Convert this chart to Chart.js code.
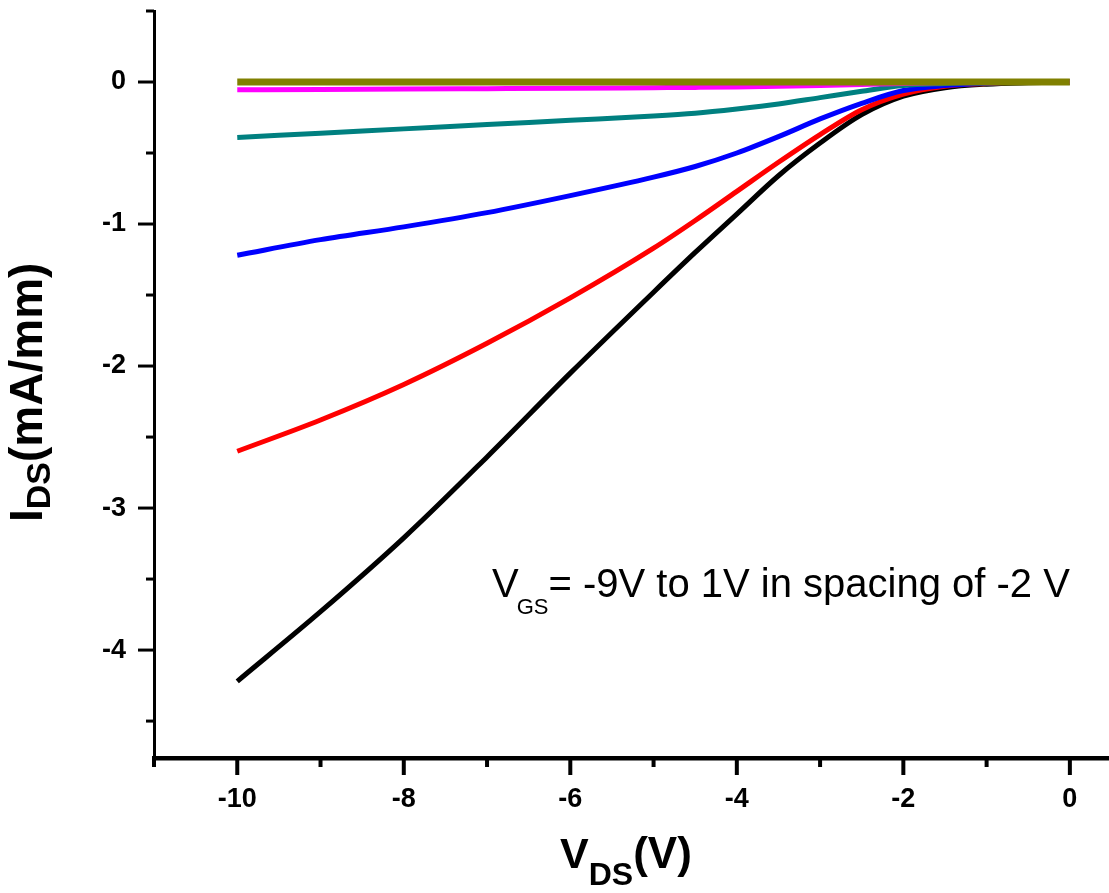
<!DOCTYPE html>
<html>
<head>
<meta charset="utf-8">
<title>IDS vs VDS</title>
<script src="https://cdn.jsdelivr.net/npm/chart.js@4.4.1/dist/chart.umd.min.js"></script>
<style>
  html, body { margin: 0; padding: 0; background: #fff; }
  #wrap { position: relative; width: 1109px; height: 893px; }
</style>
</head>
<body>
<div id="wrap"><canvas id="ivChart"></canvas></div>
<script>
const FONT = "'Liberation Sans', Arial, Helvetica, sans-serif";

// drain voltage sweep (V)
const vds = [-10, -9, -8, -7, -6, -5, -4.5, -4, -3.5, -3, -2.5, -2, -1.5, -1, -0.5, 0];

// drain current (mA/mm), one array per gate voltage
const idsVgsM9 = [-4.22, -3.73, -3.21, -2.64, -2.05, -1.48, -1.20, -0.93, -0.66, -0.43, -0.23, -0.10, -0.04, -0.015, -0.005, 0];
const idsVgsM7 = [-2.60, -2.38, -2.13, -1.84, -1.52, -1.17, -0.975, -0.77, -0.565, -0.37, -0.195, -0.085, -0.03, -0.01, 0, 0];
const idsVgsM5 = [-1.22, -1.11, -1.02, -0.92, -0.80, -0.67, -0.595, -0.50, -0.385, -0.26, -0.15, -0.06, -0.025, -0.008, 0, 0];
const idsVgsM3 = [-0.39, -0.36, -0.33, -0.30, -0.27, -0.24, -0.22, -0.19, -0.155, -0.11, -0.065, -0.025, -0.01, 0, 0, 0];
const idsVgsM1 = [-0.055, -0.052, -0.05, -0.047, -0.044, -0.04, -0.038, -0.035, -0.03, -0.025, -0.018, -0.01, -0.004, 0, 0, 0];
const idsVgsP1 = [0, 0, 0, 0, 0, 0, 0, 0, 0, 0, 0, 0, 0, 0, 0, 0];

const xMajorTicks = [-10, -8, -6, -4, -2, 0];
const xMinorTicks = [-11, -9, -7, -5, -3, -1];
const yMajorTicks = [-4, -3, -2, -1, 0];
const yMinorTicks = [-4.5, -3.5, -2.5, -1.5, -0.5, 0.5];

function toPoints(ys) {
  return vds.map((x, i) => ({ x: x, y: ys[i] }));
}

function curve(ys, color, width) {
  return {
    data: toPoints(ys),
    borderColor: color,
    backgroundColor: color,
    borderWidth: width,
    showLine: true,
    pointRadius: 0,
    cubicInterpolationMode: 'monotone',
    fill: false
  };
}

// minor/major ticks, axis titles and the note, drawn after the chart
const decorPlugin = {
  id: 'decor',
  afterDraw(chart) {
    const ctx = chart.ctx;
    const xs = chart.scales.x;
    const ys = chart.scales.y;
    const area = chart.chartArea;

    ctx.save();
    ctx.strokeStyle = '#000';
    ctx.lineCap = 'butt';

    ctx.lineWidth = 3;
    yMajorTicks.forEach(v => {
      const y = ys.getPixelForValue(v);
      ctx.beginPath(); ctx.moveTo(area.left, y); ctx.lineTo(area.left - 16, y); ctx.stroke();
    });
    yMinorTicks.forEach(v => {
      const y = ys.getPixelForValue(v);
      ctx.beginPath(); ctx.moveTo(area.left, y); ctx.lineTo(area.left - 8, y); ctx.stroke();
    });

    ctx.lineWidth = 4;
    xMajorTicks.forEach(v => {
      const x = xs.getPixelForValue(v);
      ctx.beginPath(); ctx.moveTo(x, area.bottom); ctx.lineTo(x, area.bottom + 17); ctx.stroke();
    });
    xMinorTicks.forEach(v => {
      const x = xs.getPixelForValue(v);
      ctx.beginPath(); ctx.moveTo(x, area.bottom); ctx.lineTo(x, area.bottom + 9); ctx.stroke();
    });

    ctx.fillStyle = '#000';
    ctx.textBaseline = 'alphabetic';
    ctx.textAlign = 'left';

    // x title: V_DS(V)
    let x = 560;
    ctx.font = 'bold 43px ' + FONT;
    ctx.fillText('V', x, 868);
    x += ctx.measureText('V').width;
    ctx.font = 'bold 32px ' + FONT;
    ctx.fillText('DS', x, 885);
    x += ctx.measureText('DS').width;
    ctx.font = 'bold 44px ' + FONT;
    ctx.fillText('(V)', x, 868);

    // y title: I_DS(mA/mm)
    ctx.save();
    ctx.translate(42, 522);
    ctx.rotate(-Math.PI / 2);
    let t = 0;
    ctx.font = 'bold 46px ' + FONT;
    ctx.fillText('I', t, 0);
    t += ctx.measureText('I').width;
    ctx.font = 'bold 34px ' + FONT;
    ctx.fillText('DS', t, 8);
    t += ctx.measureText('DS').width;
    ctx.font = 'bold 46px ' + FONT;
    ctx.fillText('(mA/mm)', t, 0);
    ctx.restore();

    // note
    let n = 492;
    ctx.font = '40px ' + FONT;
    ctx.fillText('V', n, 597);
    n += ctx.measureText('V').width;
    ctx.font = '22px ' + FONT;
    ctx.fillText('GS', n - 2, 614);
    n += ctx.measureText('GS').width - 2;
    ctx.font = '40px ' + FONT;
    ctx.fillText('= -9V to 1V in spacing of -2 V', n, 597);

    ctx.restore();
  }
};

const chart = new Chart(document.getElementById('ivChart'), {
  type: 'scatter',
  data: {
    datasets: [
      curve(idsVgsP1, '#808000', 7),
      curve(idsVgsM1, '#ff00ff', 5),
      curve(idsVgsM3, '#008080', 5),
      curve(idsVgsM5, '#0000ff', 5),
      curve(idsVgsM7, '#ff0000', 5),
      curve(idsVgsM9, '#000000', 5)
    ]
  },
  options: {
    responsive: true,
    maintainAspectRatio: false,
    animation: false,
    layout: { padding: { top: 11, right: 0, bottom: 0, left: 0 } },
    plugins: {
      legend: { display: false },
      tooltip: { enabled: false }
    },
    scales: {
      x: {
        type: 'linear',
        min: -11,
        max: 0.47,
        afterFit(scale) {
          scale.height = 135;
          scale.paddingLeft = 0;
          scale.paddingRight = 0;
        },
        afterBuildTicks(scale) { scale.ticks = xMajorTicks.map(v => ({ value: v })); },
        grid: { display: true, drawOnChartArea: false, drawTicks: false },
        border: { display: true, color: '#000', width: 4.5 },
        ticks: {
          color: '#000',
          padding: 25,
          maxRotation: 0,
          font: { family: FONT, size: 27, weight: 'bold' },
          callback: v => String(v)
        }
      },
      y: {
        type: 'linear',
        min: -4.76,
        max: 0.5,
        afterFit(scale) {
          scale.width = 154;
          scale.paddingTop = 0;
          scale.paddingBottom = 0;
        },
        afterBuildTicks(scale) { scale.ticks = yMajorTicks.map(v => ({ value: v })); },
        grid: { display: true, drawOnChartArea: false, drawTicks: false },
        border: { display: true, color: '#000', width: 3 },
        ticks: {
          color: '#000',
          padding: 28,
          font: { family: FONT, size: 27, weight: 'bold' },
          callback: v => String(v)
        }
      }
    }
  },
  plugins: [decorPlugin]
});
</script>
</body>
</html>
